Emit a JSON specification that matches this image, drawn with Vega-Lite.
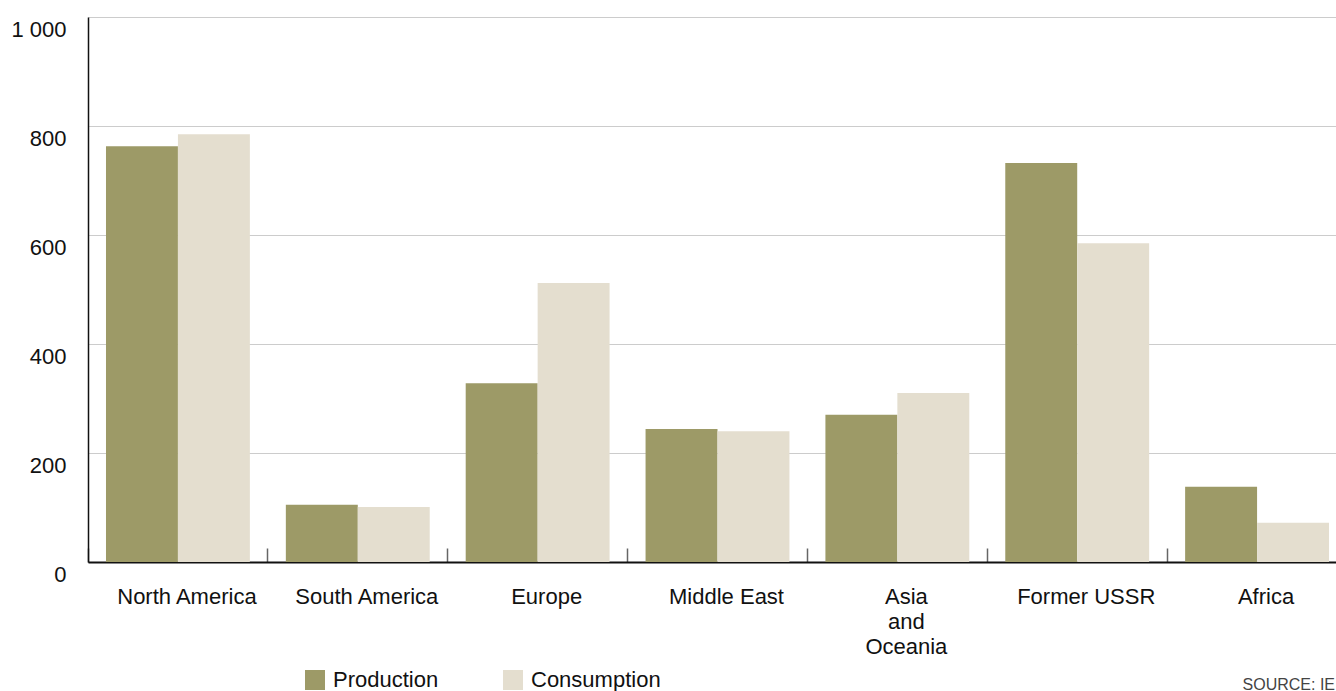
{
  "$schema": "https://vega.github.io/schema/vega-lite/v6.json",
  "width": 1248,
  "height": 545,
  "autosize": {"type": "none"},
  "padding": {"left": 88, "top": 17, "right": 0, "bottom": 129},
  "background": "white",
  "title": {
    "text": "SOURCE: IE",
    "orient": "bottom",
    "anchor": "end",
    "fontSize": 16,
    "fontWeight": "normal",
    "color": "#444444",
    "font": "Liberation Sans",
    "offset": -14,
    "dx": -12
  },
  "data": {
    "values": [
      {"region": "North America", "type": "Production", "value": 763},
      {"region": "North America", "type": "Consumption", "value": 785},
      {"region": "South America", "type": "Production", "value": 105},
      {"region": "South America", "type": "Consumption", "value": 101},
      {"region": "Europe", "type": "Production", "value": 328},
      {"region": "Europe", "type": "Consumption", "value": 512},
      {"region": "Middle East", "type": "Production", "value": 244},
      {"region": "Middle East", "type": "Consumption", "value": 240},
      {"region": "Asia and Oceania", "type": "Production", "value": 270},
      {"region": "Asia and Oceania", "type": "Consumption", "value": 310},
      {"region": "Former USSR", "type": "Production", "value": 732},
      {"region": "Former USSR", "type": "Consumption", "value": 585},
      {"region": "Africa", "type": "Production", "value": 138},
      {"region": "Africa", "type": "Consumption", "value": 72}
    ]
  },
  "mark": {"type": "bar"},
  "encoding": {
    "x": {
      "field": "region",
      "type": "nominal",
      "sort": null,
      "scale": {"range": [0, 1259], "paddingInner": 0, "paddingOuter": 0},
      "axis": {
        "title": null,
        "labelAngle": 0,
        "bandPosition": 0,
        "tickSize": -14,
        "tickColor": "#666666",
        "tickWidth": 1.5,
        "domainColor": "#111111",
        "domainWidth": 2,
        "labelFont": "Liberation Sans",
        "labelFontSize": 22,
        "labelColor": "#111111",
        "labelPadding": 38,
        "labelOffset": 9,
        "labelBaseline": "top",
        "labelLineHeight": 25,
        "labelExpr": "datum.label == 'Asia and Oceania' ? ['Asia', 'and', 'Oceania'] : datum.label",
        "grid": false
      }
    },
    "xOffset": {
      "field": "type",
      "type": "nominal",
      "sort": ["Production", "Consumption"],
      "scale": {"paddingInner": 0, "paddingOuter": 0.25}
    },
    "y": {
      "field": "value",
      "type": "quantitative",
      "scale": {"domain": [0, 1000], "nice": false},
      "axis": {
        "title": null,
        "values": [0, 200, 400, 600, 800, 1000],
        "ticks": false,
        "domainColor": "#111111",
        "domainWidth": 1.5,
        "gridColor": "#cccccc",
        "gridWidth": 1,
        "labelFont": "Liberation Sans",
        "labelFontSize": 22,
        "labelColor": "#111111",
        "labelPadding": 22,
        "labelOffset": 12,
        "labelExpr": "replace(datum.label, ',', ' ')"
      }
    },
    "color": {
      "field": "type",
      "type": "nominal",
      "sort": ["Production", "Consumption"],
      "scale": {"domain": ["Production", "Consumption"], "range": ["#9d9a67", "#e4decf"]},
      "legend": {
        "title": null,
        "orient": "none",
        "direction": "horizontal",
        "legendX": 216,
        "legendY": 652,
        "symbolType": "square",
        "symbolSize": 400,
        "symbolStrokeWidth": 0,
        "symbolOpacity": 1,
        "labelFont": "Liberation Sans",
        "labelFontSize": 22,
        "labelColor": "#111111",
        "labelOffset": 7,
        "columnPadding": 63
      }
    }
  },
  "config": {
    "view": {"stroke": null},
    "font": "Liberation Sans"
  }
}
